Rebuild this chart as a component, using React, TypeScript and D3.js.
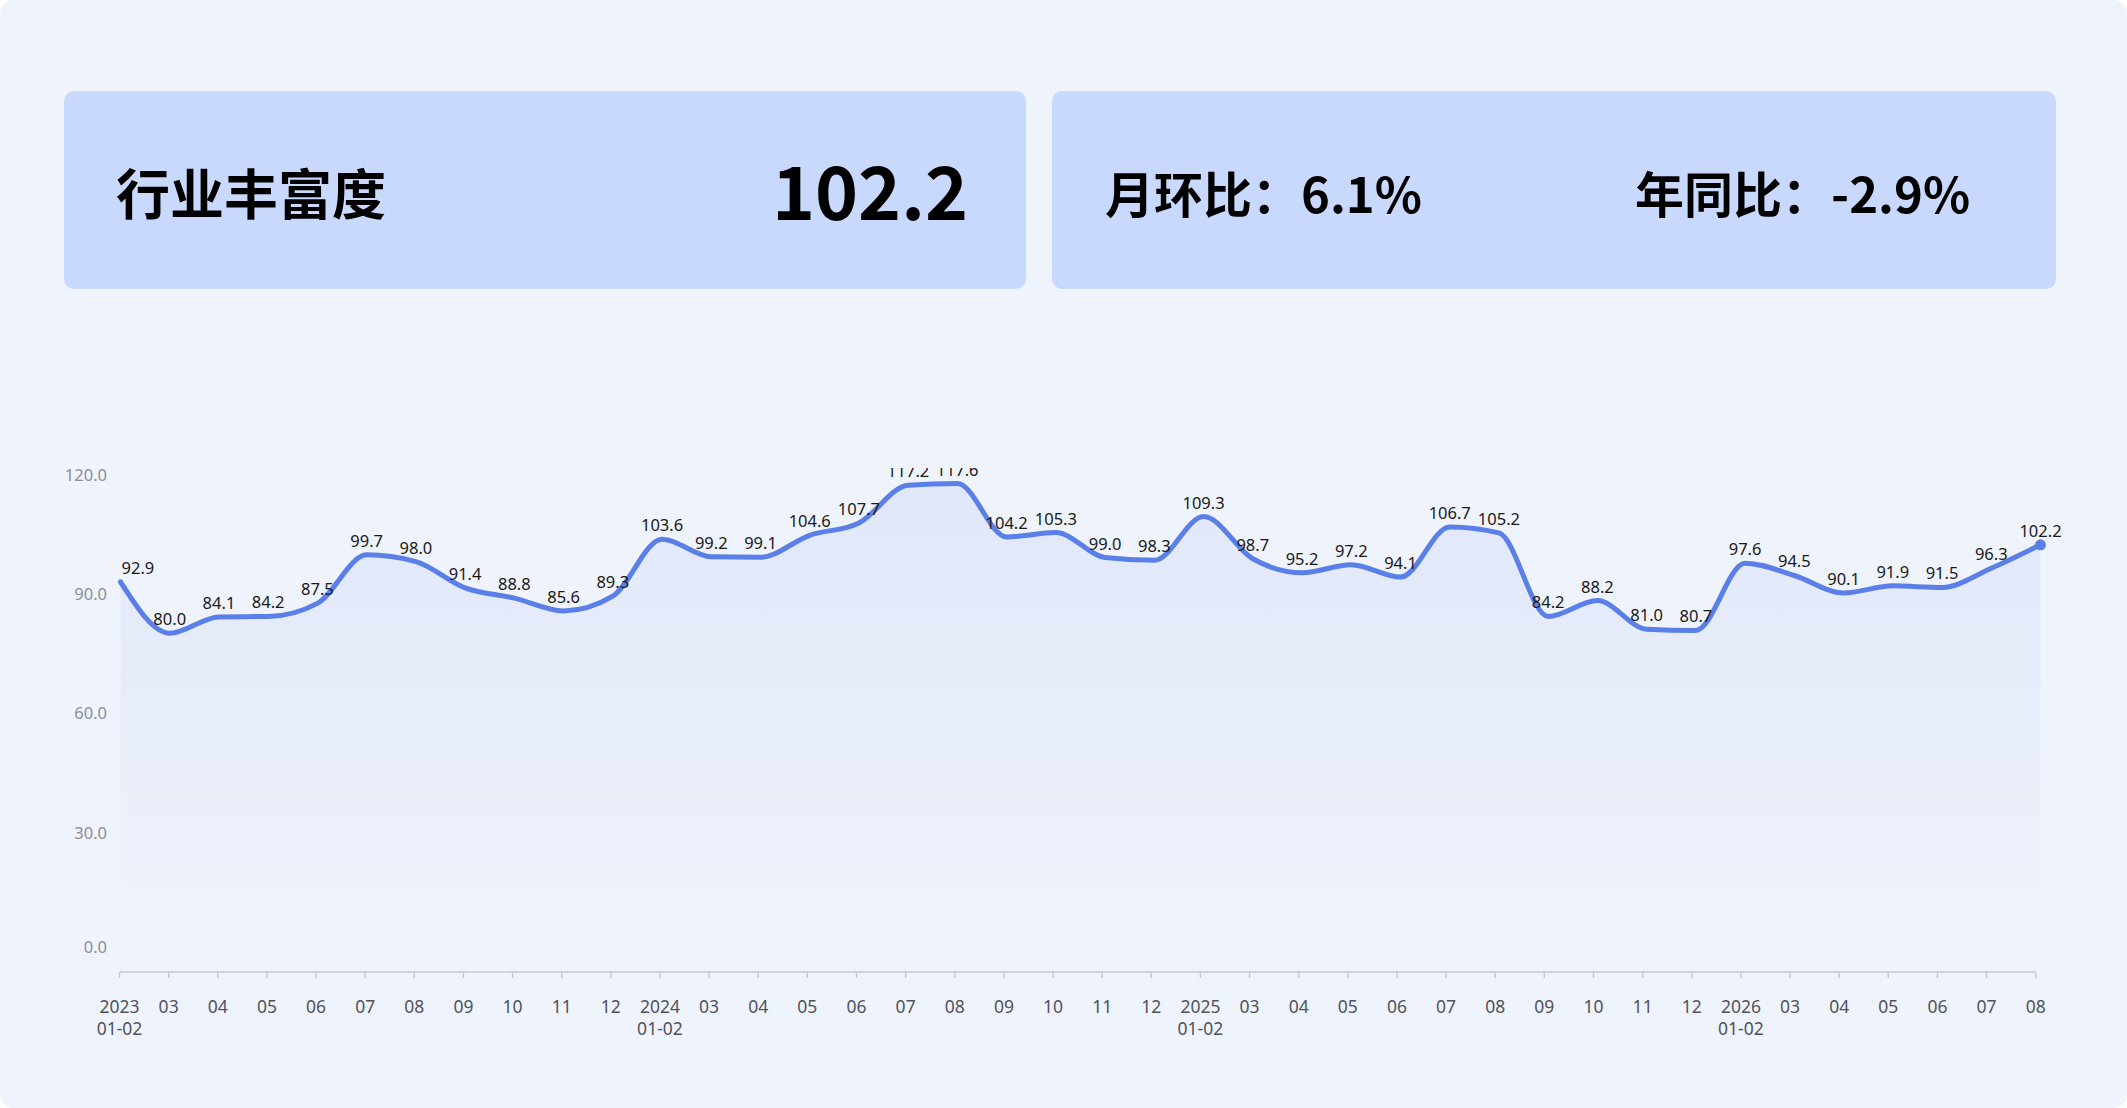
import * as React from "react";
import * as d3 from "d3";

// chart data
const periods = [
  "2023-01-02", "2023-03", "2023-04", "2023-05", "2023-06", "2023-07", "2023-08", "2023-09", "2023-10", "2023-11", "2023-12",
  "2024-01-02", "2024-03", "2024-04", "2024-05", "2024-06", "2024-07", "2024-08", "2024-09", "2024-10", "2024-11", "2024-12",
  "2025-01-02", "2025-03", "2025-04", "2025-05", "2025-06", "2025-07", "2025-08", "2025-09", "2025-10", "2025-11", "2025-12",
  "2026-01-02", "2026-03", "2026-04", "2026-05", "2026-06", "2026-07", "2026-08",
];
const values = [
  92.9, 80.0, 84.1, 84.2, 87.5, 99.7, 98.0, 91.4, 88.8, 85.6, 89.3,
  103.6, 99.2, 99.1, 104.6, 107.7, 117.2, 117.6, 104.2, 105.3, 99.0, 98.3,
  109.3, 98.7, 95.2, 97.2, 94.1, 106.7, 105.2, 84.2, 88.2, 81.0, 80.7,
  97.6, 94.5, 90.1, 91.9, 91.5, 96.3, 102.2,
];
const yTicks = [0, 30, 60, 90, 120];

const headerTitle = "行业丰富度";
const headerValue = 102.2;
const momLabel = "月环比";
const momValue = 6.1;
const yoyLabel = "年同比";
const yoyValue = -2.9;

const W = 2127;
const H = 1108;
const LINE = "#5b7fe8";
const CJK = "'Noto Sans CJK SC', 'Noto Sans', sans-serif";
const LATIN = "'Noto Sans', 'Noto Sans CJK SC', sans-serif";

function tickLines(p: string): string[] {
  const parts = p.split("-");
  if (parts.length === 3) return [parts[0], `${parts[1]}-${parts[2]}`];
  return [parts[1]];
}

const fmt = (v: number) => v.toFixed(1);

export default function App() {
  const x = d3.scalePoint<string>().domain(periods).range([120.5, 2040.5]);
  const xTick = d3.scalePoint<string>().domain(periods).range([119.5, 2035.7]);
  const y = d3.scaleLinear().domain([0, 120]).range([951.6, 474]);

  const pts = periods.map((p, i) => ({ p, v: values[i] }));
  const line = d3
    .line<{ p: string; v: number }>()
    .x((d) => x(d.p)!)
    .y((d) => y(d.v))
    .curve(d3.curveMonotoneX);
  const area = d3
    .area<{ p: string; v: number }>()
    .x((d) => x(d.p)!)
    .y0(y(0))
    .y1((d) => y(d.v))
    .curve(d3.curveMonotoneX);

  const last = pts[pts.length - 1];

  return (
    <>
      <style>{`html,body{margin:0;padding:0;overflow:hidden;background:#fff}`}</style>
      <svg width={W} height={H} style={{ display: "block" }}>
        <defs>
          <linearGradient id="areaFill" x1="0" y1="0" x2="0" y2="1">
            <stop offset="0%" stopColor={LINE} stopOpacity={0.1} />
            <stop offset="100%" stopColor={LINE} stopOpacity={0} />
          </linearGradient>
          <clipPath id="plotClip">
            <rect x={0} y={468} width={W} height={H - 468} />
          </clipPath>
        </defs>

        <rect x={0} y={0} width={W} height={H} rx={14} fill="#eff3fb" />

        {/* header cards */}
        <rect x={64} y={91} width={962} height={198} rx={10} fill="#c8d9fd" />
        <rect x={1052} y={91} width={1004} height={198} rx={10} fill="#c8d9fd" />
        <text x={116} y={215} fontFamily={CJK} fontWeight={700} fontSize={54} fill="#000">
          {headerTitle}
        </text>
        <text x={968} y={220} textAnchor="end" fontFamily={CJK} fontWeight={700} fontSize={73} fill="#000">
          {fmt(headerValue)}
        </text>
        <text x={1105} y={213} fontFamily={CJK} fontWeight={700} fontSize={49} fill="#000">
          {`${momLabel}：${fmt(momValue)}%`}
        </text>
        <text x={1635} y={213} fontFamily={CJK} fontWeight={700} fontSize={49} fill="#000">
          {`${yoyLabel}：${fmt(yoyValue)}%`}
        </text>

        {/* y axis labels */}
        {yTicks.map((t) => (
          <text
            key={t}
            x={107}
            y={y(t) - (t === 0 ? 5 : 0)}
            textAnchor="end"
            dominantBaseline="central"
            fontFamily={LATIN}
            fontSize={16.5}
            fill="#8a8e98"
          >
            {fmt(t)}
          </text>
        ))}

        <g clipPath="url(#plotClip)">
          <path d={area(pts)!} fill="url(#areaFill)" />
          <path d={line(pts)!} fill="none" stroke={LINE} strokeWidth={5} strokeLinejoin="round" strokeLinecap="round" />
          <circle cx={x(last.p)} cy={y(last.v)} r={5.5} fill={LINE} />
          {pts.map((d, i) => (
            <text
              key={d.p}
              x={i === 0 ? x(d.p)! + 1 : x(d.p)}
              y={y(d.v) - 8}
              textAnchor={i === 0 ? "start" : "middle"}
              fontFamily={LATIN}
              fontSize={16.5}
              fill="#1a1a1a"
            >
              {fmt(d.v)}
            </text>
          ))}
        </g>

        {/* x axis */}
        <line x1={xTick(periods[0])} x2={xTick(periods[periods.length - 1])} y1={972} y2={972} stroke="#c5c8d0" strokeWidth={1.5} />
        {periods.map((p) => (
          <g key={p} transform={`translate(${xTick(p)},972)`}>
            <line y1={0} y2={6} stroke="#c5c8d0" strokeWidth={1.5} />
            {tickLines(p).map((s, k) => (
              <text key={k} y={41 + k * 22} textAnchor="middle" fontFamily={LATIN} fontSize={17.5} fill="#50535c">
                {s}
              </text>
            ))}
          </g>
        ))}
      </svg>
    </>
  );
}
